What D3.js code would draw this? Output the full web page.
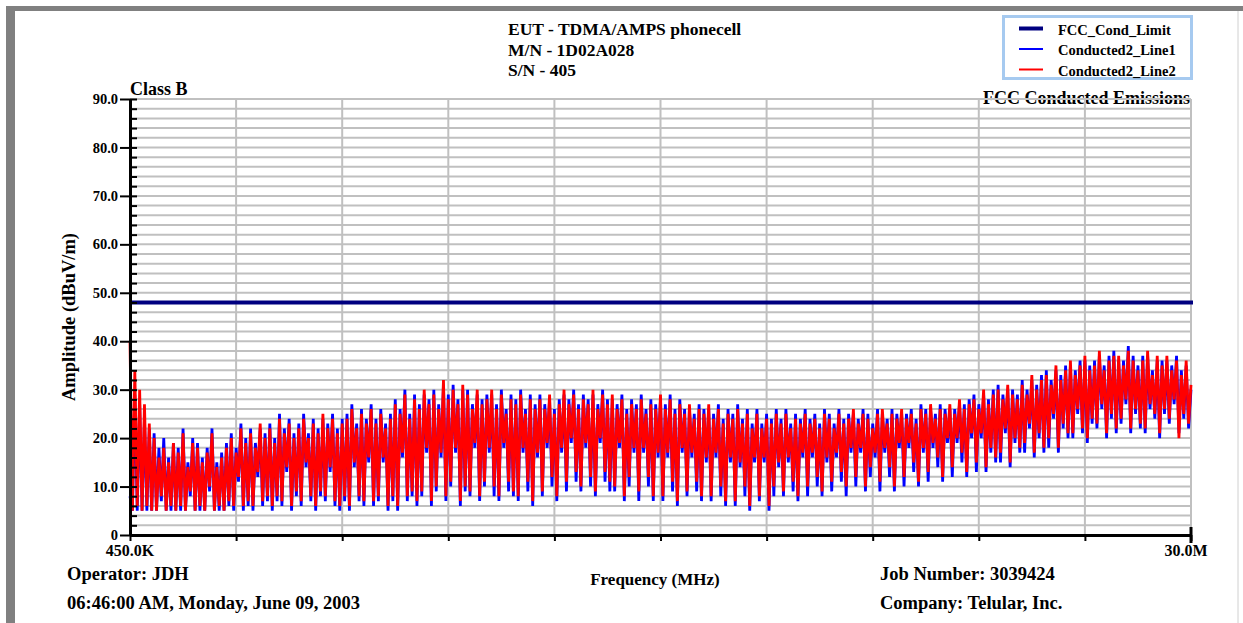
<!DOCTYPE html>
<html>
<head>
<meta charset="utf-8">
<script src="https://cdn.jsdelivr.net/npm/d3@7"></script>
<style>
body { margin: 0; background: #fff; }
svg { display: block; font-family: "Liberation Serif", "Times New Roman", serif; font-weight: bold; }
</style>
</head>
<body>
<svg></svg>
<script>
// ---- data ----
var titleLines = ['EUT - TDMA/AMPS phonecell', 'M/N - 1D02A028', 'S/N - 405'];
var seriesNames = ['FCC_Cond_Limit', 'Conducted2_Line1', 'Conducted2_Line2'];
var seriesColors = ['#000080', '#0000ff', '#ff0000'];
var freqStartMHz = 0.45,
    freqStopMHz = 30.0;
var xTickLabels = ['450.0K', '30.0M'];
var yTickValues = [0, 10, 20, 30, 40, 50, 60, 70, 80, 90];
var yTickLabels = ['0', '10.0', '20.0', '30.0', '40.0', '50.0', '60.0', '70.0', '80.0', '90.0'];
var limitDb = 48;

// sweep amplitudes (dBuV), evenly spaced from start to stop frequency
var line1Db = [
    8, 5, 29, 5, 27, 5, 24, 5, 22, 5,
    21, 5, 18, 7, 20, 5, 16, 5, 19, 5,
    18, 5, 22, 5, 15, 8, 20, 5, 19, 5,
    16, 5, 18, 9, 22, 5, 15, 5, 17, 5,
    19, 6, 21, 5, 18, 11, 23, 5, 20, 6,
    22, 5, 19, 12, 22, 6, 21, 7, 23, 5,
    20, 7, 25, 6, 22, 13, 24, 5, 21, 8,
    23, 6, 25, 14, 21, 7, 24, 5, 22, 8,
    24, 7, 23, 13, 25, 6, 22, 5, 24, 7,
    25, 5, 27, 14, 23, 7, 26, 6, 24, 15,
    27, 6, 24, 7, 26, 15, 23, 5, 25, 7,
    28, 5, 26, 16, 30, 7, 25, 8, 29, 6,
    27, 8, 29, 17, 28, 6, 30, 9, 27, 16,
    31, 7, 29, 10, 31, 17, 28, 6, 30, 9,
    30, 8, 27, 18, 29, 7, 28, 10, 29, 17,
    29, 8, 27, 7, 30, 18, 26, 9, 29, 8,
    28, 7, 30, 17, 26, 9, 29, 6, 27, 16,
    29, 8, 27, 18, 28, 10, 26, 7, 28, 17,
    29, 9, 28, 19, 30, 11, 27, 9, 29, 18,
    28, 10, 29, 8, 27, 19, 30, 11, 28, 9,
    28, 9, 27, 18, 29, 7, 26, 10, 28, 17,
    27, 7, 29, 17, 26, 10, 28, 7, 27, 16,
    28, 7, 27, 16, 29, 9, 26, 6, 28, 17,
    26, 8, 26, 16, 25, 9, 27, 7, 26, 15,
    26, 7, 25, 16, 27, 8, 24, 6, 26, 15,
    25, 6, 27, 14, 24, 8, 26, 5, 23, 15,
    26, 7, 23, 15, 25, 5, 24, 8, 26, 14,
    24, 8, 26, 15, 23, 9, 25, 7, 24, 16,
    26, 8, 24, 16, 25, 10, 23, 8, 26, 15,
    25, 9, 23, 16, 26, 11, 24, 8, 25, 17,
    25, 10, 24, 17, 26, 9, 25, 12, 23, 16,
    26, 9, 25, 17, 24, 12, 26, 9, 25, 18,
    25, 10, 25, 18, 26, 13, 24, 10, 27, 17,
    26, 11, 26, 18, 25, 14, 27, 11, 26, 19,
    26, 12, 26, 19, 27, 15, 27, 12, 28, 20,
    29, 13, 27, 20, 29, 13, 28, 17, 30, 15,
    31, 15, 29, 21, 30, 14, 30, 19, 29, 17,
    32, 17, 30, 22, 32, 16, 31, 20, 33, 17,
    34, 18, 32, 24, 34, 17, 33, 22, 35, 20,
    35, 20, 34, 25, 36, 21, 36, 19, 35, 23,
    36, 22, 37, 26, 35, 20, 37, 24, 38, 21,
    36, 23, 36, 27, 39, 21, 37, 25, 35, 22,
    37, 21, 37, 26, 34, 24, 36, 20, 36, 25,
    36, 23, 35, 27, 37, 21, 34, 24, 35, 22,
    30
];
var line2Db = [
    40, 5, 34, 6, 30, 5, 27, 6, 23, 5,
    20, 5, 16, 8, 18, 5, 15, 6, 19, 5,
    17, 6, 21, 5, 14, 9, 19, 5, 18, 6,
    15, 5, 17, 10, 21, 5, 14, 6, 16, 5,
    18, 7, 20, 6, 17, 12, 22, 6, 19, 7,
    21, 6, 18, 13, 23, 7, 20, 8, 22, 6,
    19, 8, 24, 7, 21, 14, 23, 6, 20, 9,
    22, 7, 24, 15, 20, 8, 23, 6, 21, 9,
    25, 8, 22, 14, 24, 7, 21, 6, 23, 8,
    24, 6, 26, 15, 22, 8, 25, 7, 23, 16,
    26, 7, 23, 8, 25, 16, 22, 6, 24, 8,
    27, 6, 25, 17, 29, 8, 24, 9, 28, 7,
    26, 9, 30, 18, 27, 7, 29, 10, 26, 17,
    32, 8, 28, 11, 30, 18, 27, 7, 31, 10,
    29, 9, 26, 19, 30, 8, 27, 11, 28, 18,
    30, 10, 26, 8, 29, 19, 25, 11, 28, 9,
    27, 8, 29, 18, 25, 11, 28, 7, 26, 17,
    28, 9, 26, 19, 29, 12, 25, 8, 27, 18,
    30, 11, 27, 20, 29, 13, 26, 10, 28, 19,
    27, 12, 30, 9, 26, 20, 29, 13, 27, 11,
    29, 10, 26, 19, 28, 8, 25, 12, 27, 18,
    26, 9, 28, 18, 25, 12, 27, 8, 26, 17,
    29, 8, 26, 17, 28, 11, 25, 7, 27, 18,
    25, 9, 27, 17, 24, 11, 26, 8, 25, 16,
    27, 8, 24, 17, 26, 10, 23, 7, 25, 16,
    24, 7, 26, 15, 23, 10, 25, 6, 22, 16,
    25, 8, 22, 16, 24, 6, 23, 10, 25, 15,
    23, 9, 25, 16, 22, 11, 24, 8, 23, 17,
    25, 10, 23, 17, 24, 12, 22, 9, 25, 16,
    24, 11, 22, 17, 25, 13, 23, 10, 24, 18,
    26, 12, 23, 18, 25, 10, 24, 14, 22, 17,
    25, 11, 26, 18, 23, 14, 25, 10, 24, 19,
    26, 12, 24, 19, 25, 15, 23, 11, 26, 18,
    25, 13, 27, 19, 24, 16, 26, 12, 25, 20,
    27, 14, 25, 20, 28, 17, 26, 13, 27, 21,
    28, 15, 26, 21, 30, 14, 27, 18, 29, 16,
    30, 17, 28, 22, 31, 15, 29, 20, 28, 18,
    31, 19, 29, 23, 33, 17, 30, 21, 32, 18,
    33, 20, 31, 25, 35, 18, 32, 23, 34, 21,
    36, 21, 33, 26, 35, 22, 37, 20, 34, 24,
    35, 23, 38, 27, 34, 21, 36, 25, 37, 22,
    37, 24, 35, 28, 38, 22, 36, 26, 34, 23,
    36, 22, 38, 27, 33, 25, 37, 21, 35, 26,
    37, 24, 34, 28, 36, 20, 33, 25, 36, 23,
    31
];

// ---- layout ----
var width = 1243,
    height = 623,
    plotL = 130,
    plotR = 1191,
    plotT = 99,
    plotB = 535,
    grid = '#c0c0c0';

var svg = d3.select('svg')
    .attr('width', width)
    .attr('height', height);

var x = d3.scaleLinear().domain([freqStartMHz, freqStopMHz]).range([plotL, plotR]),
    y = d3.scaleLinear().domain([0, 90]).range([plotB, plotT]);

// page frame
svg.append('polygon')
    .attr('points', '6,6 1243,6 1243,11 15,11 15,623 6,623')
    .attr('fill', '#808080');
svg.append('line')
    .attr('x1', 1238).attr('x2', 1238)
    .attr('y1', 11).attr('y2', height)
    .attr('stroke', '#d0d0d0');

// header text
svg.append('g')
    .selectAll('text')
    .data(titleLines)
    .enter().append('text')
    .attr('x', 508)
    .attr('y', function (d, i) { return 35 + i * 20.5; })
    .attr('font-size', 17.5)
    .text(function (d) { return d; });

svg.append('text')
    .attr('x', plotL)
    .attr('y', 95)
    .attr('font-size', 18)
    .text('Class B');

svg.append('text')
    .attr('x', 1190)
    .attr('y', 104)
    .attr('text-anchor', 'end')
    .attr('font-size', 18)
    .text('FCC Conducted Emissions');

// grid
var yGrid = d3.range(2, 91, 2),
    xGrid = d3.range(11).map(function (i) { return freqStartMHz + i * (freqStopMHz - freqStartMHz) / 10; });

var g = svg.append('g').attr('class', 'grid');
g.selectAll('line.h')
    .data(yGrid)
    .enter().append('line')
    .attr('class', 'h')
    .attr('x1', plotL).attr('x2', plotR)
    .attr('y1', function (d) { return y(d); })
    .attr('y2', function (d) { return y(d); })
    .attr('stroke', grid)
    .attr('stroke-width', 2);

g.selectAll('line.v')
    .data(xGrid.slice(1))
    .enter().append('line')
    .attr('class', 'v')
    .attr('x1', function (d) { return x(d); })
    .attr('x2', function (d) { return x(d); })
    .attr('y1', plotT).attr('y2', plotB)
    .attr('stroke', grid)
    .attr('stroke-width', 2);

// traces
var trace = function (arr) {
    var s = (freqStopMHz - freqStartMHz) / (arr.length - 1);
    return d3.line()
        .x(function (d, i) { return x(freqStartMHz + i * s); })
        .y(function (d) { return y(d); })(arr);
};

svg.append('line')
    .attr('x1', plotL).attr('x2', plotR + 2)
    .attr('y1', y(limitDb)).attr('y2', y(limitDb))
    .attr('stroke', seriesColors[0])
    .attr('stroke-width', 4);

svg.append('path')
    .attr('d', trace(line1Db))
    .attr('fill', 'none')
    .attr('stroke', seriesColors[1])
    .attr('stroke-width', 2.8);

svg.append('path')
    .attr('d', trace(line2Db))
    .attr('fill', 'none')
    .attr('stroke', seriesColors[2])
    .attr('stroke-width', 2.8);

// axes
var yAxis = d3.axisLeft(y)
    .tickValues(yTickValues)
    .tickSize(10)
    .tickSizeOuter(0)
    .tickPadding(2)
    .tickFormat(function (d, i) { return yTickLabels[i]; });

var gy = svg.append('g')
    .attr('class', 'axis-y')
    .attr('transform', 'translate(' + plotL + ',0)')
    .call(yAxis)
    .attr('font-family', null)
    .attr('font-size', 14.5);

svg.append('g')
    .attr('class', 'axis-y-minor')
    .attr('transform', 'translate(' + plotL + ',0)')
    .call(d3.axisRight(y).tickValues(d3.range(0, 91, 2)).tickSize(7).tickSizeOuter(0).tickFormat(''));

svg.append('g')
    .attr('class', 'axis-x')
    .attr('transform', 'translate(0,' + plotB + ')')
    .call(d3.axisBottom(x).tickValues(xGrid).tickSize(6).tickSizeOuter(0).tickFormat(''));

svg.selectAll('.axis-y path, .axis-y-minor path, .axis-x path')
    .attr('stroke', '#000')
    .attr('stroke-width', 3);
svg.selectAll('.axis-y line, .axis-y-minor line, .axis-x line')
    .attr('stroke', '#000')
    .attr('stroke-width', 2);
gy.selectAll('text').attr('fill', '#000');

// end marker at 30 MHz
svg.append('line')
    .attr('x1', plotR).attr('x2', plotR)
    .attr('y1', plotB - 8).attr('y2', plotB + 8)
    .attr('stroke', '#000')
    .attr('stroke-width', 3);

svg.append('g')
    .selectAll('text')
    .data(xTickLabels)
    .enter().append('text')
    .attr('x', function (d, i) { return i == 0 ? x(freqStartMHz) : x(freqStopMHz) - 5; })
    .attr('y', 556)
    .attr('text-anchor', 'middle')
    .attr('font-size', 16)
    .text(function (d) { return d; });

// axis titles
svg.append('text')
    .attr('transform', 'translate(75,' + (plotT + plotB) / 2 + ') rotate(-90)')
    .attr('text-anchor', 'middle')
    .attr('font-size', 18.5)
    .text('Amplitude (dBuV/m)');

svg.append('text')
    .attr('x', 655)
    .attr('y', 585)
    .attr('text-anchor', 'middle')
    .attr('font-size', 17)
    .text('Frequency (MHz)');

// footer
var footer = [
    { x: 67, y: 580, t: 'Operator: JDH' },
    { x: 67, y: 609, t: '06:46:00 AM, Monday, June 09, 2003' },
    { x: 880, y: 580, t: 'Job Number: 3039424' },
    { x: 880, y: 609, t: 'Company: Telular, Inc.' }
];
svg.append('g')
    .selectAll('text')
    .data(footer)
    .enter().append('text')
    .attr('x', function (d) { return d.x; })
    .attr('y', function (d) { return d.y; })
    .attr('font-size', 18.5)
    .text(function (d) { return d.t; });

// legend
var legend = svg.append('g').attr('class', 'legend');
legend.append('rect')
    .attr('x', 1003.5).attr('y', 16.5)
    .attr('width', 188).attr('height', 62)
    .attr('fill', '#fff')
    .attr('stroke', '#a6caf0')
    .attr('stroke-width', 3);

var li = legend.selectAll('.li')
    .data(seriesNames)
    .enter().append('g')
    .attr('class', 'li')
    .attr('transform', function (d, i) { return 'translate(0,' + (28.5 + i * 20.5) + ')'; });

li.append('line')
    .attr('x1', 1019).attr('x2', 1043)
    .attr('stroke', function (d, i) { return seriesColors[i]; })
    .attr('stroke-width', function (d, i) { return i == 0 ? 4 : 2; });

li.append('text')
    .attr('x', 1058)
    .attr('y', 6)
    .attr('font-size', 14.5)
    .text(function (d) { return d; });
</script>
</body>
</html>
